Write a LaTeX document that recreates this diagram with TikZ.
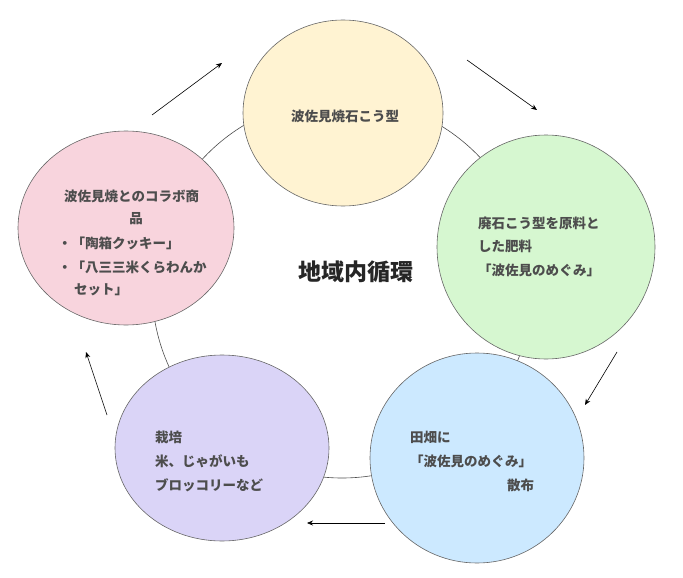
\documentclass[tikz,border=0pt]{standalone}
\usepackage{fontspec}
\newfontfamily\jp{Noto Sans CJK JP}
\usetikzlibrary{shapes.geometric,arrows.meta}
\definecolor{txt}{HTML}{4D4D4D}
\tikzset{
  stage/.style={ellipse, draw=black!60, line width=0.6pt},
  lbl/.style={font=\jp\bfseries\fontsize{13.5}{15}\selectfont, text=txt, anchor=west, inner sep=0pt},
  flow/.style={-{Stealth[length=6pt,width=5pt]}, line width=0.6pt}
}
\begin{document}
\begin{tikzpicture}[x=1pt,y=-1pt]
        \useasboundingbox (0,0) rectangle (683,578);
        \draw[black!70, line width=0.6pt] (342,288) circle (190);

        \node[stage, fill={rgb,255:red,255;green,243;blue,210}, minimum width=200, minimum height=186] (kata) at (343,113) {};
        \node[stage, fill={rgb,255:red,214;green,247;blue,208}, minimum width=218, minimum height=224] (hiryo) at (546,247) {};
        \node[stage, fill={rgb,255:red,204;green,233;blue,255}, minimum width=214, minimum height=210] (sanpu) at (477,458) {};
        \node[stage, fill={rgb,255:red,218;green,212;blue,247}, minimum width=214, minimum height=186] (saibai) at (222,448) {};
        \node[stage, fill={rgb,255:red,248;green,212;blue,221}, minimum width=216, minimum height=194] (collab) at (126,228) {};

        \node[lbl, anchor=center] (t1) at (345,116) {波佐見焼石こう型};
        \node[lbl] (t2a) at (478,223) {廃石こう型を原料と};
        \node[lbl] (t2b) at (478,246) {した肥料};
        \node[lbl] (t2c) at (478,270) {「波佐見のめぐみ」};
        \node[lbl] (t3a) at (410,437) {田畑に};
        \node[lbl] (t3b) at (410,461) {「波佐見のめぐみ」};
        \node[lbl] (t3c) at (507,485) {散布};
        \node[lbl] (t4a) at (155,437) {栽培};
        \node[lbl] (t4b) at (155,461) {米、じゃがいも};
        \node[lbl] (t4c) at (155,485) {ブロッコリーなど};
        \node[lbl] (t5a) at (64,196) {波佐見焼とのコラボ商};
        \node[lbl, anchor=center] (t5b) at (136,219) {品};
        \node[lbl] (t5c) at (58,243) {・「陶箱クッキー」};
        \node[lbl] (t5d) at (58,267) {・「八三三米くらわんか};
        \node[lbl] (t5e) at (74,290) {セット」};

        \node[font=\jp\bfseries\fontsize{23}{25}\selectfont, text=black!85] (title) at (356,272) {地域内循環};

        \coordinate (a1) at (152,115); \coordinate (b1) at (222,63);
        \coordinate (a2) at (467,60);  \coordinate (b2) at (537,110);
        \coordinate (a3) at (617,352); \coordinate (b3) at (585,405);
        \coordinate (a4) at (385,523); \coordinate (b4) at (307,523);
        \coordinate (a5) at (107,415); \coordinate (b5) at (86,352);
        \foreach \i in {1,...,5}
            \draw[flow] (a\i) -- (b\i);
\end{tikzpicture}
\end{document}
